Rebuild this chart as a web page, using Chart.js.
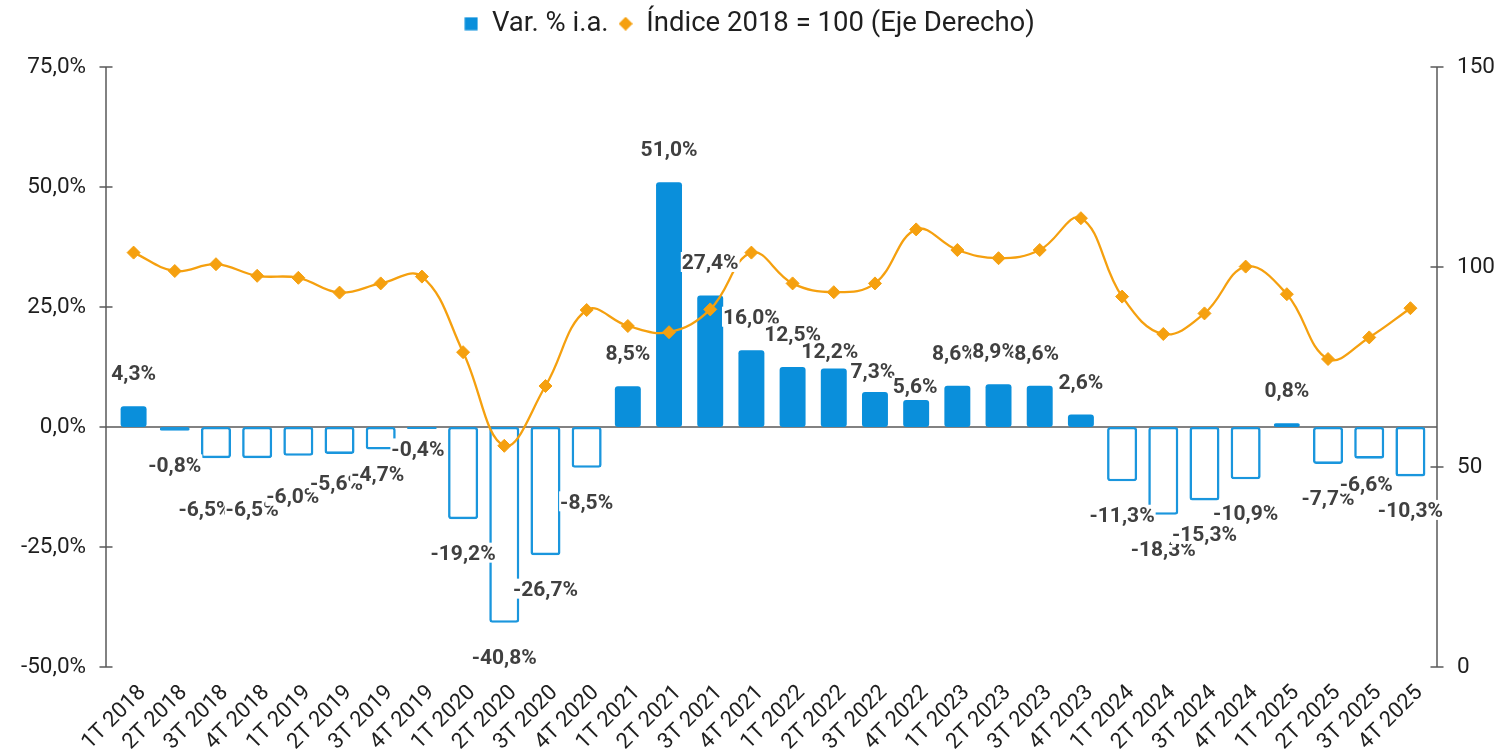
<!DOCTYPE html>
<html>
<head>
<meta charset="utf-8">
<script src="https://cdn.jsdelivr.net/npm/chart.js@4.4.1/dist/chart.umd.min.js"></script>
<style>
  html, body { margin: 0; padding: 0; background: #ffffff; }
  #wrap { width: 1499px; height: 755px; position: relative; }
</style>
</head>
<body>
<div id="wrap"><canvas id="c"></canvas></div>
<script>
// ---------- DATA ----------
const categories = [
  '1T 2018','2T 2018','3T 2018','4T 2018',
  '1T 2019','2T 2019','3T 2019','4T 2019',
  '1T 2020','2T 2020','3T 2020','4T 2020',
  '1T 2021','2T 2021','3T 2021','4T 2021',
  '1T 2022','2T 2022','3T 2022','4T 2022',
  '1T 2023','2T 2023','3T 2023','4T 2023',
  '1T 2024','2T 2024','3T 2024','4T 2024',
  '1T 2025','2T 2025','3T 2025','4T 2025'
];
const varPct = [
  4.3, -0.8, -6.5, -6.5,
  -6.0, -5.6, -4.7, -0.4,
  -19.2, -40.8, -26.7, -8.5,
  8.5, 51.0, 27.4, 16.0,
  12.5, 12.2, 7.3, 5.6,
  8.6, 8.9, 8.6, 2.6,
  -11.3, -18.3, -15.3, -10.9,
  0.8, -7.7, -6.6, -10.3
];
const indice = [
  103.6, 99.0, 100.7, 97.8,
  97.3, 93.6, 95.9, 97.6,
  78.7, 55.3, 70.25, 89.25,
  85.25, 83.7, 89.4, 103.6,
  95.9, 93.7, 95.9, 109.4,
  104.25, 102.2, 104.25, 112.2,
  92.6, 83.25, 88.4, 100.1,
  93.2, 77.0, 82.4, 89.7
];
const leftTicks = [-50, -25, 0, 25, 50, 75];
const rightTicks = [0, 50, 100, 150];
const seriesNames = ['Var. % i.a.', 'Índice 2018 = 100 (Eje Derecho)'];

// ---------- LAYOUT / STYLE ----------
const BLUE = '#0A8FDB';
const BLUE_LINE = '#1A96DD';
const ORANGE = '#F5A00F';
const AXIS = '#595959';
const TEXT = '#1F1F1F';
const LABEL = '#404040';
const LABEL_GAP = 33.5;
// manual label nudges [dx, dy] (as in the reference, to avoid overlaps)
const labelNudge = {
  2: [-11, 16.5], 3: [-5, 16.5], 4: [-5.5, 6.5], 5: [-3, -5], 6: [-3, -10], 7: [-4, -14],
  17: [-4, 15.5], 18: [-2, 12], 19: [-1, 19], 20: [-3, 0], 21: [-4, 0], 22: [-3, 0],
  30: [-3, -8.5]
};

const fmtPct = v => v.toFixed(1).replace('.', ',') + '%';

function makeIcon(kind, color) {
  const c = document.createElement('canvas');
  c.width = 14; c.height = 14;
  const g = c.getContext('2d');
  g.fillStyle = color;
  if (kind === 'sq') {
    g.fillRect(0.5, 0.5, 13, 13);
  } else {
    g.beginPath();
    g.moveTo(7, 0); g.lineTo(14, 7); g.lineTo(7, 14); g.lineTo(0, 7);
    g.closePath(); g.fill();
  }
  return c;
}
const iconSq = makeIcon('sq', BLUE);
const iconDia = makeIcon('dia', ORANGE);

Chart.defaults.font.family = 'Roboto';

const axesPlugin = {
  id: 'axesPlugin',
  beforeDatasetsDraw(chart) {
    const { ctx, chartArea: a, scales } = chart;
    const y = scales.y, y1 = scales.y1;
    const lx = a.left - 7, rx = a.right + 6;
    ctx.save();
    ctx.strokeStyle = AXIS;
    ctx.lineWidth = 1.5;
    ctx.beginPath();
    ctx.moveTo(lx, a.top); ctx.lineTo(lx, a.bottom);
    ctx.moveTo(rx, a.top); ctx.lineTo(rx, a.bottom);
    y.ticks.forEach(t => {
      const p = y.getPixelForValue(t.value);
      ctx.moveTo(lx - 6.5, p); ctx.lineTo(lx + 6.5, p);
    });
    y1.ticks.forEach(t => {
      const p = y1.getPixelForValue(t.value);
      ctx.moveTo(rx - 6.5, p); ctx.lineTo(rx + 6.5, p);
    });
    const z = y.getPixelForValue(0);
    ctx.moveTo(lx, z); ctx.lineTo(rx, z);
    ctx.stroke();
    ctx.restore();
  }
};

const labelPlugin = {
  id: 'labelPlugin',
  afterDatasetsDraw(chart) {
    const ctx = chart.ctx;
    const posMeta = chart.getDatasetMeta(0), negMeta = chart.getDatasetMeta(1);
    ctx.save();
    ctx.font = 'bold 21px Roboto';
    ctx.textAlign = 'center';
    ctx.textBaseline = 'alphabetic';
    varPct.forEach((v, i) => {
      const el = (v >= 0 ? posMeta : negMeta).data[i];
      if (!el) return;
      const n = labelNudge[i] || [0, 0];
      const x = el.x + n[0];
      const cy = el.y + (v >= 0 ? -LABEL_GAP : LABEL_GAP) + n[1];
      const txt = fmtPct(v);
      const w = ctx.measureText(txt).width;
      ctx.fillStyle = '#ffffff';
      ctx.fillRect(x - w / 2 - 1, cy - 10, w + 2, 20);
      ctx.fillStyle = LABEL;
      ctx.fillText(txt, x, cy + 7.5);
    });
    ctx.restore();
  }
};

const legendHeightPlugin = {
  id: 'legendHeight',
  beforeLayout(chart) {
    const lg = chart.legend;
    if (lg && !lg._patched) {
      const f = lg.fit.bind(lg);
      lg.fit = function () { f(); this.height = 67; };
      lg._patched = true;
    }
  }
};

new Chart(document.getElementById('c'), {
  data: {
    labels: categories,
    datasets: [
      {
        type: 'bar',
        label: seriesNames[0],
        data: varPct.map(v => (v >= 0 ? v : null)),
        backgroundColor: BLUE,
        borderWidth: 0,
        borderRadius: 3,
        borderSkipped: false,
        barPercentage: 0.63,
        categoryPercentage: 1.0,
        grouped: false,
        yAxisID: 'y',
        order: 2
      },
      {
        type: 'bar',
        label: seriesNames[0] + ' (neg)',
        data: varPct.map(v => (v < 0 ? v : null)),
        backgroundColor: '#ffffff',
        borderColor: BLUE_LINE,
        borderWidth: 2.6,
        borderRadius: 3,
        borderSkipped: false,
        barPercentage: 0.73,
        categoryPercentage: 1.0,
        grouped: false,
        yAxisID: 'y',
        order: 2
      },
      {
        type: 'line',
        label: seriesNames[1],
        data: indice,
        borderColor: ORANGE,
        backgroundColor: ORANGE,
        borderWidth: 2.3,
        tension: 0.4,
        pointStyle: 'rectRot',
        pointRadius: 6.5,
        pointHoverRadius: 6.5,
        pointBackgroundColor: ORANGE,
        pointBorderColor: ORANGE,
        pointBorderWidth: 1,
        yAxisID: 'y1',
        order: 0
      }
    ]
  },
  options: {
    responsive: true,
    maintainAspectRatio: false,
    animation: false,
    layout: { padding: { top: 0, left: 0, right: 0, bottom: 0 } },
    plugins: {
      tooltip: { enabled: false },
      legend: {
        display: true,
        position: 'top',
        align: 'center',
        labels: {
          usePointStyle: true,
          boxWidth: 14,
          boxHeight: 14,
          padding: 10,
          color: TEXT,
          font: { size: 27.5, family: 'Roboto' },
          generateLabels: chart => [
            { text: chart.data.datasets[0].label, pointStyle: iconSq, fillStyle: BLUE, strokeStyle: BLUE,
              lineWidth: 0, hidden: false, datasetIndex: 0, fontColor: TEXT },
            { text: chart.data.datasets[2].label, pointStyle: iconDia, fillStyle: ORANGE, strokeStyle: ORANGE,
              lineWidth: 0, hidden: false, datasetIndex: 2, fontColor: TEXT }
          ]
        }
      }
    },
    scales: {
      x: {
        type: 'category',
        offset: true,
        grid: { display: false, drawTicks: false },
        border: { display: false },
        afterFit: s => { s.height = 88; },
        ticks: {
          autoSkip: false,
          maxRotation: 45,
          minRotation: 45,
          padding: 13,
          labelOffset: 9,
          color: TEXT,
          font: { size: 22, family: 'Roboto' }
        }
      },
      y: {
        type: 'linear',
        position: 'left',
        min: -50,
        max: 75,
        grid: { display: false, drawTicks: false },
        border: { display: false },
        afterFit: s => { s.width = 113; },
        afterBuildTicks: s => { s.ticks = leftTicks.map(v => ({ value: v })); },
        ticks: {
          padding: 27,
          color: TEXT,
          font: { size: 22.5, family: 'Roboto' },
          callback: v => fmtPct(v)
        }
      },
      y1: {
        type: 'linear',
        position: 'right',
        min: 0,
        max: 150,
        grid: { display: false, drawTicks: false },
        border: { display: false },
        afterFit: s => { s.width = 68; },
        afterBuildTicks: s => { s.ticks = rightTicks.map(v => ({ value: v })); },
        ticks: {
          padding: 26,
          color: TEXT,
          font: { size: 22.5, family: 'Roboto' },
          callback: v => String(v)
        }
      }
    }
  },
  plugins: [legendHeightPlugin, axesPlugin, labelPlugin]
});
</script>
</body>
</html>
